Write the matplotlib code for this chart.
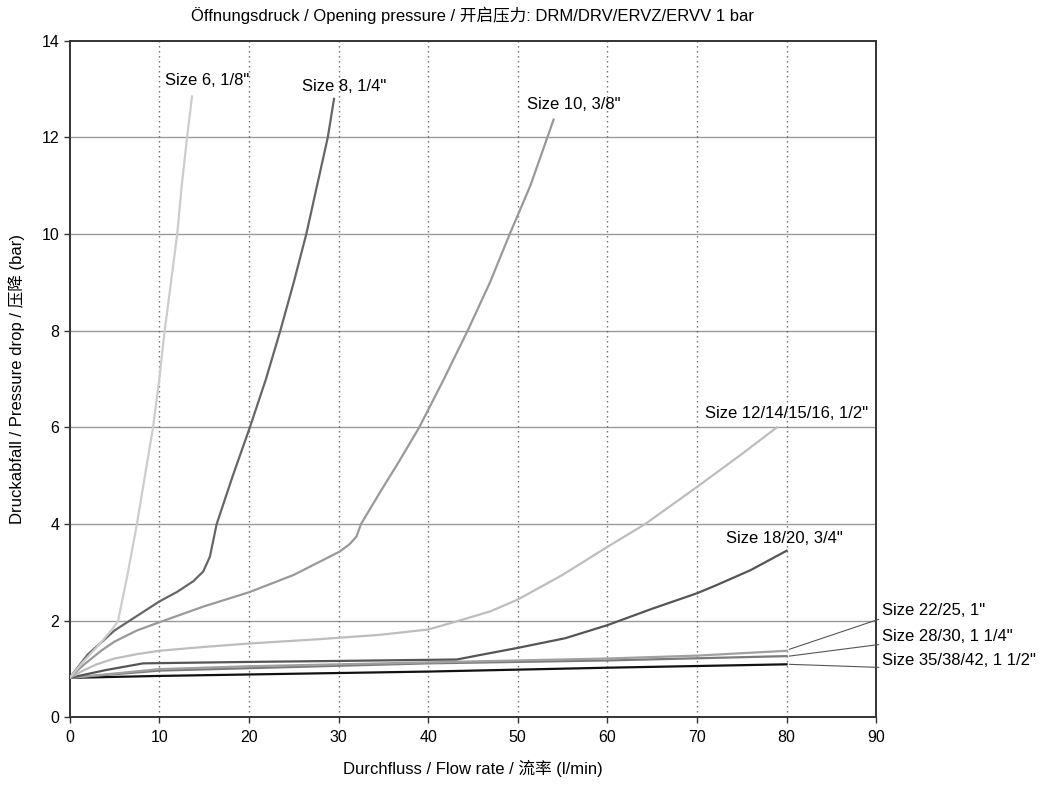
import matplotlib
matplotlib.use('Agg')
import matplotlib.pyplot as plt

plt.rcParams['font.family'] = ['Liberation Sans', 'Noto Sans CJK SC']
plt.rcParams['font.size'] = 12

# Flow rate (l/min) and pressure drop (bar), one pair per size
flow_6 = [0, 1.5, 3, 4.85, 5.4, 6.5, 7.5, 8.4, 9.3, 10.0, 10.6, 11.3, 12.0, 12.5, 13.1, 13.65]
dp_6 = [0.82, 1.15, 1.45, 1.85, 2.0, 3.0, 4.0, 5.0, 6.0, 7.0, 8.0, 9.0, 10.0, 11.0, 12.0, 12.85]

flow_8 = [0, 2, 5, 7.5, 10, 12, 13.8, 14.9, 15.65, 16.4, 18.2, 20.1, 21.9, 23.5, 25.0, 26.4, 27.6, 28.8, 29.5]
dp_8 = [0.82, 1.3, 1.8, 2.1, 2.4, 2.6, 2.82, 3.02, 3.33, 4.0, 5.0, 6.0, 7.0, 8.0, 9.0, 10.0, 11.0, 12.0, 12.8]

flow_10 = [0, 1.5, 3.5, 5, 7.5, 10, 15, 20, 25, 28.3, 30.1, 31.2, 32.0, 32.5, 34.6, 36.6, 39.0, 41.7, 44.4, 46.9, 49.1, 51.4, 53.3, 54.0]
dp_10 = [0.82, 1.08, 1.38, 1.57, 1.8, 1.97, 2.3, 2.59, 2.95, 3.26, 3.43, 3.58, 3.74, 4.0, 4.65, 5.25, 6.0, 6.98, 8.0, 9.0, 10.0, 11.0, 12.0, 12.37]

flow_12 = [0, 1.5, 3, 5, 7.5, 10, 15, 20, 27.8, 34.6, 40, 43.4, 47, 50, 55, 60, 64.2, 70, 75, 78.9]
dp_12 = [0.82, 0.97, 1.1, 1.22, 1.31, 1.38, 1.46, 1.53, 1.62, 1.71, 1.82, 2.0, 2.2, 2.44, 2.95, 3.53, 4.0, 4.77, 5.45, 6.0]

flow_18 = [0, 4, 8.2, 20, 30, 43.2, 46, 50, 55.3, 60, 65, 70, 72.2, 76, 80]
dp_18 = [0.82, 0.98, 1.12, 1.15, 1.17, 1.2, 1.3, 1.44, 1.64, 1.91, 2.25, 2.57, 2.74, 3.05, 3.45]

flow_22 = [0, 10, 20, 40, 60, 70, 80]
dp_22 = [0.82, 1.0, 1.06, 1.14, 1.22, 1.28, 1.38]

flow_28 = [0, 10, 40, 60, 80]
dp_28 = [0.82, 0.97, 1.12, 1.18, 1.27]

flow_35 = [0, 10, 40, 60, 80]
dp_35 = [0.82, 0.86, 0.95, 1.03, 1.1]

x_ticks = [0, 10, 20, 30, 40, 50, 60, 70, 80, 90]
y_ticks = [0, 2, 4, 6, 8, 10, 12, 14]

fig = plt.figure(figsize=(10.4, 7.85), dpi=100)
ax = fig.add_axes([0.067, 0.086, 0.7755, 0.862])

# grid: solid horizontal, dotted vertical
for y in y_ticks[1:-1]:
    ax.axhline(y, color='#9a9a9a', lw=1.0, zorder=1)
for x in x_ticks[1:-1]:
    ax.axvline(x, color='#666666', lw=1.0, linestyle=(0, (1, 2.6)), zorder=1)

ax.plot(flow_35, dp_35, color='#111111', lw=1.6, zorder=3)
ax.plot(flow_28, dp_28, color='#7a7a7a', lw=1.6, zorder=3)
ax.plot(flow_22, dp_22, color='#a0a0a0', lw=1.6, zorder=3)
ax.plot(flow_18, dp_18, color='#555555', lw=1.6, zorder=3)
ax.plot(flow_12, dp_12, color='#bdbdbd', lw=1.6, zorder=3)
ax.plot(flow_10, dp_10, color='#999999', lw=1.6, zorder=3)
ax.plot(flow_8, dp_8, color='#666666', lw=1.6, zorder=3)
ax.plot(flow_6, dp_6, color='#cccccc', lw=1.6, zorder=3)

# labels at the top of the curves
ax.text(10.6, 13.18, 'Size 6, 1/8"', ha='left', va='center')
ax.text(25.9, 13.06, 'Size 8, 1/4"', ha='left', va='center')
ax.text(51.0, 12.69, 'Size 10, 3/8"', ha='left', va='center')
ax.text(70.9, 6.28, 'Size 12/14/15/16, 1/2"', ha='left', va='center')
ax.text(73.2, 3.71, 'Size 18/20, 3/4"', ha='left', va='center')

# labels outside the plot with leader lines
leader = dict(arrowstyle='-', color='#555555', lw=0.8, shrinkA=0, shrinkB=0, relpos=(0.04, 0.05))
ax.annotate('Size 22/25, 1"', xy=(flow_22[-1] + 0.3, dp_22[-1] + 0.03), xytext=(90.6, 2.22),
            ha='left', va='center', arrowprops=leader, annotation_clip=False)
ax.annotate('Size 28/30, 1 1/4"', xy=(flow_28[-1] + 0.3, dp_28[-1]), xytext=(90.6, 1.67),
            ha='left', va='center', arrowprops=leader, annotation_clip=False)
ax.annotate('Size 35/38/42, 1 1/2"', xy=(flow_35[-1] + 0.3, dp_35[-1]), xytext=(90.6, 1.17),
            ha='left', va='center', arrowprops=leader, annotation_clip=False)

ax.set_xlim(0, 90)
ax.set_ylim(0, 14)
ax.set_xticks(x_ticks)
ax.set_yticks(y_ticks)
ax.tick_params(direction='out', length=4, width=1, color='#333333', labelsize=11.5)
ax.tick_params(axis='x', pad=5)

for s in ax.spines.values():
    s.set_color('#333333')
    s.set_linewidth(1.4)

ax.set_title('Öffnungsdruck / Opening pressure / 开启压力: DRM/DRV/ERVZ/ERVV 1 bar', pad=14, fontsize=12)
ax.set_xlabel('Durchfluss / Flow rate / 流率 (l/min)', labelpad=11)
ax.set_ylabel('Druckabfall / Pressure drop / 压降 (bar)', labelpad=12)

plt.savefig('out.png', dpi=100)
